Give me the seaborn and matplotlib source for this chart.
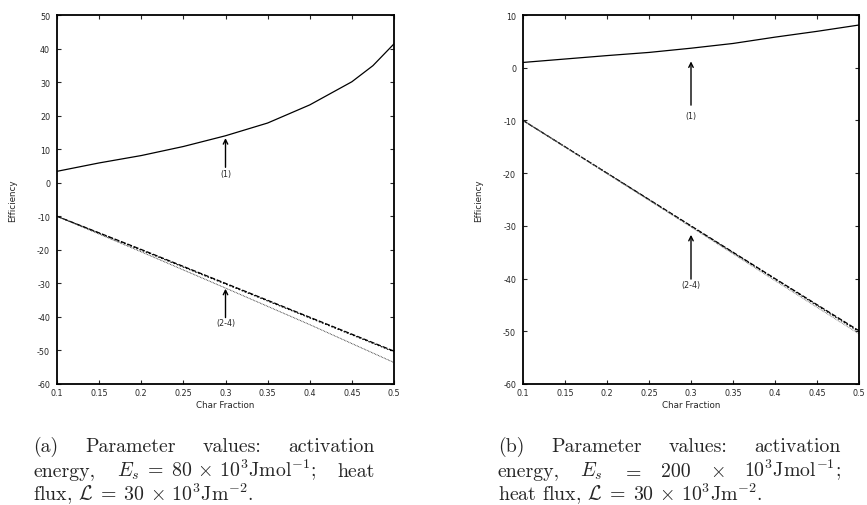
import matplotlib
matplotlib.use("Agg")
import matplotlib.pyplot as plt
import seaborn as sns
import numpy as np
import pandas as pd

# ---------------- data ----------------
x_vals = [0.1, 0.15, 0.2, 0.25, 0.3, 0.35, 0.4, 0.45, 0.475, 0.5]
a_curve1 = [3.4, 5.9, 8.1, 10.8, 14.0, 17.8, 23.2, 30.1, 34.9, 41.4]

x_lin = [0.1, 0.2, 0.3, 0.4, 0.5]
a_curve2 = [-10.0, -19.9, -30.0, -40.1, -50.2]
a_curve3 = [-10.0, -20.1, -30.2, -40.3, -50.4]
a_curve4 = [-10.0, -20.6, -31.4, -42.3, -53.6]

x_b = [0.1, 0.15, 0.2, 0.25, 0.3, 0.35, 0.4, 0.45, 0.5]
b_curve1 = [1.0, 1.65, 2.3, 2.9, 3.7, 4.6, 5.8, 6.9, 8.1]
b_curve2 = [-10.0, -20.0, -30.0, -40.0, -49.9]
b_curve3 = [-10.0, -20.0, -30.1, -40.1, -50.1]
b_curve4 = [-10.0, -20.1, -30.2, -40.4, -50.5]

x_ticks = [0.1, 0.15, 0.2, 0.25, 0.3, 0.35, 0.4, 0.45, 0.5]
x_ticklabels = ["0.1", "0.15", "0.2", "0.25", "0.3", "0.35", "0.4", "0.45", "0.5"]
a_yticks = [-60, -50, -40, -30, -20, -10, 0, 10, 20, 30, 40, 50]
b_yticks = [-60, -50, -40, -30, -20, -10, 0, 10]

xlabel = "Char Fraction"
ylabel = "Efficiency"

# annotations: (label, head_y, tail_y, text_y) at x = 0.3
a_arrows = [("(1)", 13.3, 4.6, 2.8), ("(2-4)", -31.6, -40.2, -41.8)]
b_arrows = [("(1)", 1.2, -7.1, -9.1), ("(2-4)", -31.7, -40.1, -41.2)]

# captions: each line = (pieces, mode); "even" spreads pieces between start and end
cap_a_start, cap_a_end = 33, 375
cap_b_start, cap_b_end = 498, 841
cap_a = [
    (["(a)", "Parameter", "values:", "activation"], "even"),
    (["energy,", r"$E_s\;=\;80\,\times\,10^3$Jmol$^{-1}$;", "heat"], "even"),
    ([r"flux, $\mathcal{L}\;=\;30\,\times\,10^3$Jm$^{-2}$."], "left"),
]
cap_b = [
    (["(b)", "Parameter", "values:", "activation"], "even"),
    (["energy,", r"$E_s$", r"$=$", "200", r"$\times$", r"$10^3$Jmol$^{-1}$;"], "even"),
    ([r"heat flux, $\mathcal{L}\;=\;30\,\times\,10^3$Jm$^{-2}$."], "left"),
]
cap_baselines = [452, 477, 501]

# ---------------- style ----------------
sns.set_style("ticks")
plt.rcParams["font.family"] = ["DejaVu Sans"]
plt.rcParams["mathtext.fontset"] = "cm"

W, H = 867, 506
fig = plt.figure(figsize=(W / 100, H / 100), dpi=100)

def px_rect(l, r, t, b):
    return [l / W, 1 - b / H, (r - l) / W, (b - t) / H]

ax_a = fig.add_axes(px_rect(57, 394, 16, 385))
ax_b = fig.add_axes(px_rect(523, 859, 16, 385))

def draw(ax, x1, c1, xl, c2, c3, c4, yticks, arrows, c4color):
    sns.lineplot(x=x1, y=c1, ax=ax, color="black", lw=0.9, sort=False)
    sns.lineplot(x=xl, y=c2, ax=ax, color="black", lw=0.9, sort=False,
                 linestyle=(0, (4, 1.5)))
    sns.lineplot(x=xl, y=c3, ax=ax, color="black", lw=0.8, sort=False,
                 linestyle=(1, (1.5, 1.5)))
    sns.lineplot(x=xl, y=c4, ax=ax, color=c4color, lw=0.7, sort=False,
                 linestyle=(0, (0.8, 0.8)))
    ax.set_xlim(0.1, 0.5)
    ax.set_ylim(yticks[0], yticks[-1])
    ax.set_xticks(x_ticks)
    ax.set_xticklabels(x_ticklabels)
    ax.set_yticks(yticks)
    ax.set_yticklabels([str(v) for v in yticks])
    ax.tick_params(direction="in", length=3, width=0.8, labelsize=5.8,
                   top=True, right=True, pad=3)
    ax.tick_params(axis="y", pad=5)
    for s in ax.spines.values():
        s.set_visible(True)
        s.set_linewidth(1.3)
        s.set_color("black")
    ax.set_xlabel(xlabel, fontsize=6.3, labelpad=2)
    ax.set_ylabel(ylabel, fontsize=6.3)
    ax.yaxis.set_label_coords(-0.119, 0.5)
    for lab, hy, ty, txy in arrows:
        ax.annotate("", xy=(0.3, hy), xytext=(0.3, ty),
                    arrowprops=dict(arrowstyle="->", lw=1.0, color="black",
                                    shrinkA=0, shrinkB=0, mutation_scale=8))
        ax.text(0.3, txy, lab, ha="center", va="center", fontsize=5.8)

draw(ax_a, x_vals, a_curve1, x_lin, a_curve2, a_curve3, a_curve4, a_yticks, a_arrows, "#333333")
draw(ax_b, x_b, b_curve1, x_lin, b_curve2, b_curve3, b_curve4, b_yticks, b_arrows, "#777777")

CAP_FS = 14.3
CAP_FAMILY = ["cmr10", "DejaVu Serif"]
fig.canvas.draw()
renderer = fig.canvas.get_renderer()

def caption(lines, start, end):
    for (pieces, mode), yb in zip(lines, cap_baselines):
        y = 1 - yb / H
        if mode == "left":
            fig.text(start / W, y, pieces[0], ha="left", va="baseline",
                     fontsize=CAP_FS, family=CAP_FAMILY)
            continue
        texts = [fig.text(0, y, t, ha="left", va="baseline", fontsize=CAP_FS,
                          family=CAP_FAMILY) for t in pieces]
        widths = [t.get_window_extent(renderer).width for t in texts]
        gap = (end - start - sum(widths)) / (len(pieces) - 1)
        xp = start
        for t, w in zip(texts, widths):
            t.set_x(xp / W)
            xp += w + gap

caption(cap_a, cap_a_start, cap_a_end)
caption(cap_b, cap_b_start, cap_b_end)

fig.savefig("out.png", dpi=100)
